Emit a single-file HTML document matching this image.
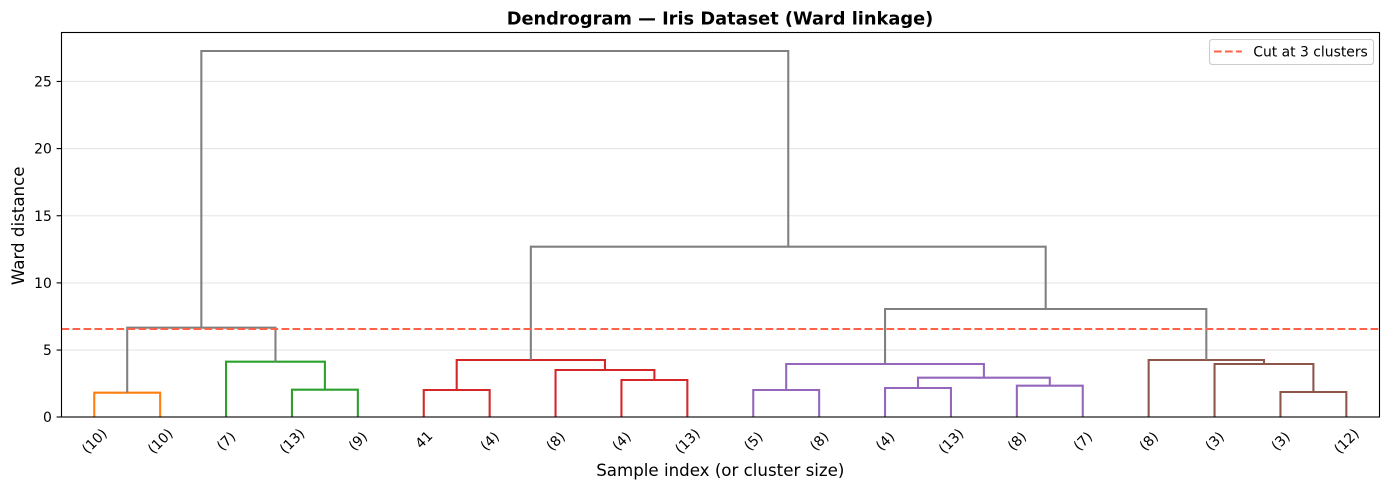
<!DOCTYPE html>
<html>
<head>
<meta charset="utf-8">
<style>
  html, body { margin: 0; padding: 0; background: #ffffff; }
  svg { display: block; }
  text { font-family: "DejaVu Sans", "Liberation Sans", sans-serif; fill: #000; }
</style>
</head>
<body>
<svg width="1389" height="490" viewBox="0 0 1389 490" xmlns="http://www.w3.org/2000/svg">
  <rect x="0" y="0" width="1389" height="490" fill="#ffffff"/>

  <!-- grid -->
  <g stroke="#e6e6e6" stroke-width="1.1">
    <line x1="61.5" y1="350.05" x2="1379.5" y2="350.05"/>
    <line x1="61.5" y1="282.9" x2="1379.5" y2="282.9"/>
    <line x1="61.5" y1="215.75" x2="1379.5" y2="215.75"/>
    <line x1="61.5" y1="148.6" x2="1379.5" y2="148.6"/>
    <line x1="61.5" y1="81.45" x2="1379.5" y2="81.45"/>
  </g>

  <!-- dendrogram -->
  <g fill="none" stroke-width="2.08" stroke-linejoin="miter" stroke-linecap="butt">
    <!-- orange -->
    <path stroke="#ff7f0e" d="M94.25 417 V392.7 H160.15 V417"/>
    <!-- green -->
    <path stroke="#2ca02c" d="M291.95 417 V389.7 H357.85 V417"/>
    <path stroke="#2ca02c" d="M226.05 417 V361.7 H324.9 V389.7"/>
    <!-- red -->
    <path stroke="#d62728" d="M423.75 417 V390 H489.65 V417"/>
    <path stroke="#d62728" d="M621.45 417 V380 H687.35 V417"/>
    <path stroke="#d62728" d="M555.55 417 V370 H654.4 V380"/>
    <path stroke="#d62728" d="M456.7 390 V360 H604.975 V370"/>
    <!-- purple -->
    <path stroke="#9467bd" d="M753.25 417 V390 H819.15 V417"/>
    <path stroke="#9467bd" d="M885.05 417 V388 H950.95 V417"/>
    <path stroke="#9467bd" d="M1016.85 417 V385.7 H1082.75 V417"/>
    <path stroke="#9467bd" d="M918 388 V377.7 H1049.8 V385.7"/>
    <path stroke="#9467bd" d="M786.2 390 V364 H983.9 V377.7"/>
    <!-- brown -->
    <path stroke="#8c564b" d="M1280.45 417 V392 H1346.35 V417"/>
    <path stroke="#8c564b" d="M1214.55 417 V364 H1313.4 V392"/>
    <path stroke="#8c564b" d="M1148.65 417 V360 H1263.975 V364"/>
    <!-- gray -->
    <path stroke="#808080" d="M127.2 392.7 V327.7 H275.475 V361.7"/>
    <path stroke="#808080" d="M885.05 364 V309 H1206.31 V360"/>
    <path stroke="#808080" d="M530.84 360 V246.7 H1045.68 V309"/>
    <path stroke="#808080" d="M201.34 327.7 V51 H788.26 V246.7"/>
  </g>

  <!-- cut line -->
  <line x1="61.5" y1="329" x2="1379.5" y2="329" stroke="#ff6347" stroke-width="2.08" stroke-dasharray="7.7 3.3"/>

  <!-- axes spines -->
  <rect x="61.5" y="32.5" width="1318" height="384.5" fill="none" stroke="#000" stroke-width="1.1"/>

  <!-- y ticks -->
  <g stroke="#000" stroke-width="1.1">
    <line x1="56.6" y1="417" x2="61.5" y2="417"/>
    <line x1="56.6" y1="350.05" x2="61.5" y2="350.05"/>
    <line x1="56.6" y1="282.9" x2="61.5" y2="282.9"/>
    <line x1="56.6" y1="215.75" x2="61.5" y2="215.75"/>
    <line x1="56.6" y1="148.6" x2="61.5" y2="148.6"/>
    <line x1="56.6" y1="81.45" x2="61.5" y2="81.45"/>
  </g>
  <g font-size="13.9" text-anchor="end">
    <text x="51.8" y="422">0</text>
    <text x="51.8" y="355.05">5</text>
    <text x="51.8" y="287.9">10</text>
    <text x="51.8" y="220.75">15</text>
    <text x="51.8" y="153.6">20</text>
    <text x="51.8" y="86.45">25</text>
  </g>

  <!-- x tick labels -->
  <g font-size="13.9" text-anchor="middle">
    <text x="94.25" y="441" dy="4.9" transform="rotate(-45 94.25 441)">(10)</text>
    <text x="160.15" y="441" dy="4.9" transform="rotate(-45 160.15 441)">(10)</text>
    <text x="226.05" y="441" dy="4.9" transform="rotate(-45 226.05 441)">(7)</text>
    <text x="291.95" y="441" dy="4.9" transform="rotate(-45 291.95 441)">(13)</text>
    <text x="357.85" y="441" dy="4.9" transform="rotate(-45 357.85 441)">(9)</text>
    <text x="423.75" y="439.5" dy="4.9" transform="rotate(-45 423.75 439.5)">41</text>
    <text x="489.65" y="441" dy="4.9" transform="rotate(-45 489.65 441)">(4)</text>
    <text x="555.55" y="441" dy="4.9" transform="rotate(-45 555.55 441)">(8)</text>
    <text x="621.45" y="441" dy="4.9" transform="rotate(-45 621.45 441)">(4)</text>
    <text x="687.35" y="441" dy="4.9" transform="rotate(-45 687.35 441)">(13)</text>
    <text x="753.25" y="441" dy="4.9" transform="rotate(-45 753.25 441)">(5)</text>
    <text x="819.15" y="441" dy="4.9" transform="rotate(-45 819.15 441)">(8)</text>
    <text x="885.05" y="441" dy="4.9" transform="rotate(-45 885.05 441)">(4)</text>
    <text x="950.95" y="441" dy="4.9" transform="rotate(-45 950.95 441)">(13)</text>
    <text x="1016.85" y="441" dy="4.9" transform="rotate(-45 1016.85 441)">(8)</text>
    <text x="1082.75" y="441" dy="4.9" transform="rotate(-45 1082.75 441)">(7)</text>
    <text x="1148.65" y="441" dy="4.9" transform="rotate(-45 1148.65 441)">(8)</text>
    <text x="1214.55" y="441" dy="4.9" transform="rotate(-45 1214.55 441)">(3)</text>
    <text x="1280.45" y="441" dy="4.9" transform="rotate(-45 1280.45 441)">(3)</text>
    <text x="1346.35" y="441" dy="4.9" transform="rotate(-45 1346.35 441)">(12)</text>
  </g>

  <!-- axis labels -->
  <text x="720.3" y="476" font-size="16.67" text-anchor="middle">Sample index (or cluster size)</text>
  <text x="24" y="225.8" font-size="16.67" text-anchor="middle" transform="rotate(-90 24 225.8)">Ward distance</text>

  <!-- title -->
  <text x="720" y="24.5" font-size="17.8" font-weight="bold" text-anchor="middle">Dendrogram — Iris Dataset (Ward linkage)</text>

  <!-- legend -->
  <rect x="1209.5" y="39.5" width="164" height="25" rx="2.8" ry="2.8" fill="#ffffff" fill-opacity="0.8" stroke="#cccccc" stroke-width="1.1"/>
  <line x1="1214" y1="51.5" x2="1241.8" y2="51.5" stroke="#ff6347" stroke-width="2.08" stroke-dasharray="7.7 3.3"/>
  <text x="1253.3" y="56.5" font-size="13.9">Cut at 3 clusters</text>
</svg>
</body>
</html>
